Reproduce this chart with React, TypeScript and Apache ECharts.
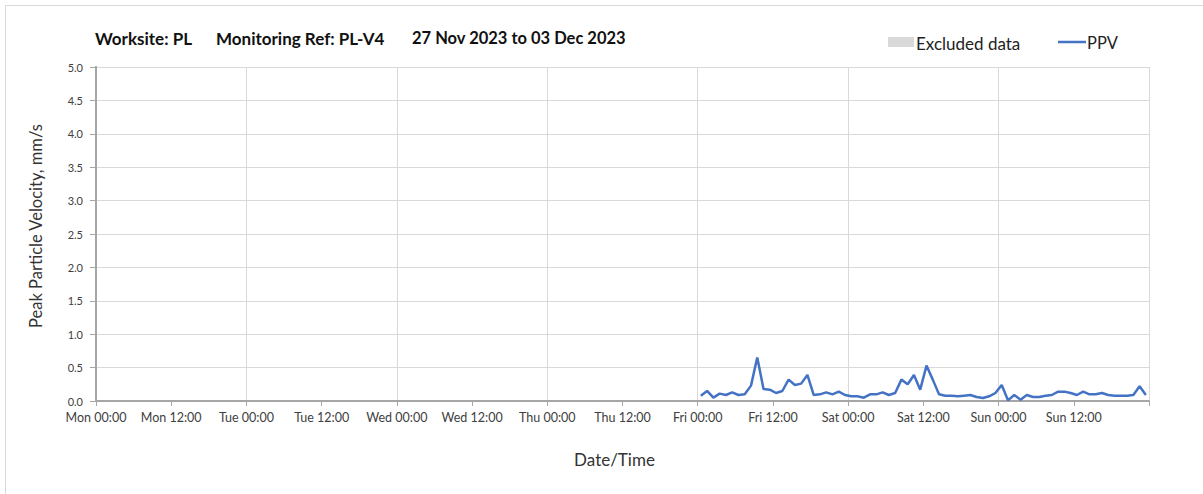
import React, { useEffect, useRef } from "react";
import * as echarts from "echarts";

const xTickLabels = [
  "Mon 00:00", "Mon 12:00", "Tue 00:00", "Tue 12:00", "Wed 00:00", "Wed 12:00",
  "Thu 00:00", "Thu 12:00", "Fri 00:00", "Fri 12:00", "Sat 00:00", "Sat 12:00",
  "Sun 00:00", "Sun 12:00", "",
];

// PPV readings, hourly, first reading at Fri 00:30 (hours counted from Mon 00:00)
const firstReadingHour = 96.5;
const ppvValues = [
  0.08, 0.15, 0.05, 0.11, 0.09, 0.13, 0.09, 0.10, 0.23, 0.65,
  0.18, 0.17, 0.12, 0.15, 0.32, 0.24, 0.26, 0.39, 0.09, 0.10,
  0.13, 0.10, 0.14, 0.09, 0.07, 0.07, 0.05, 0.10, 0.10, 0.13,
  0.09, 0.12, 0.32, 0.25, 0.39, 0.17, 0.53, 0.32, 0.10, 0.08,
  0.08, 0.07, 0.08, 0.09, 0.06, 0.045, 0.07, 0.12, 0.24, 0.01,
  0.09, 0.02, 0.09, 0.06, 0.06, 0.08, 0.09, 0.14, 0.14, 0.12,
  0.09, 0.14, 0.10, 0.10, 0.12, 0.09, 0.08, 0.08, 0.08, 0.09,
  0.22, 0.09,
];

const titleParts = ["Worksite: PL", "Monitoring Ref: PL-V4", "27 Nov 2023 to 03 Dec 2023"];
const legendNames = ["Excluded data", "PPV"];

const FONT = "Lato, 'Noto Sans', sans-serif";

export default function App() {
  const ref = useRef<HTMLDivElement>(null);
  useEffect(() => {
    if (!ref.current) return;
    const chart = echarts.init(ref.current, null, { renderer: "svg" });
    const seriesData = ppvValues.map((v, i) => [firstReadingHour + i, v]);
    chart.setOption({
      animation: false,
      backgroundColor: "#ffffff",
      textStyle: { fontFamily: FONT },
      grid: { left: 96, right: 54, top: 67, bottom: 93 },
      xAxis: [
        {
          type: "value",
          min: 0,
          max: 168,
          interval: 12,
          name: "Date/Time",
          nameLocation: "middle",
          nameGap: 50,
          nameTextStyle: { fontSize: 17, color: "#333", fontFamily: FONT, padding: [0, 16, 0, 0] },
          axisLine: { show: true, lineStyle: { color: "#a6a6a6", width: 2 } },
          axisTick: { show: true, length: 5, lineStyle: { color: "#a6a6a6" } },
          axisLabel: {
            margin: 10,
            fontSize: 12.5,
            color: "#404040",
            fontFamily: FONT,
            formatter: (v: number) => xTickLabels[Math.round(v / 12)] ?? "",
          },
          splitLine: { show: false },
        },
        {
          type: "value",
          min: 0,
          max: 168,
          interval: 24,
          position: "bottom",
          axisLine: { show: false },
          axisTick: { show: false },
          axisLabel: { show: false },
          splitLine: { show: true, lineStyle: { color: "#d9d9d9", width: 1 } },
        },
      ],
      yAxis: [
        {
          type: "value",
          min: 0,
          max: 5,
          interval: 0.5,
          name: "Peak Particle Velocity, mm/s",
          nameLocation: "middle",
          nameGap: 52,
          nameTextStyle: { fontSize: 16.5, color: "#333", fontFamily: FONT, padding: [0, 0, 0, 16] },
          axisLine: { show: true, lineStyle: { color: "#a6a6a6", width: 2 } },
          axisTick: { show: true, length: 6, lineStyle: { color: "#a6a6a6" } },
          axisLabel: {
            margin: 13,
            fontSize: 11,
            color: "#404040",
            fontFamily: FONT,
            formatter: (v: number) => v.toFixed(1),
          },
          splitLine: { show: true, lineStyle: { color: "#d9d9d9", width: 1 } },
        },
        {
          type: "value",
          min: 0,
          max: 5,
          position: "right",
          axisLine: { show: true, lineStyle: { color: "#a6a6a6", width: 2 } },
          axisTick: { show: false },
          axisLabel: { show: false },
          splitLine: { show: false },
        },
      ],
      series: [
        {
          name: legendNames[1],
          type: "line",
          xAxisIndex: 0,
          yAxisIndex: 0,
          data: seriesData,
          showSymbol: false,
          symbol: "none",
          lineStyle: { color: "#4472c4", width: 2.5 },
          itemStyle: { color: "#4472c4" },
        },
      ],
      graphic: [
        {
          type: "rect",
          shape: { x: 5.5, y: 5.5, width: 1400, height: 700 },
          style: { fill: "none", stroke: "#d9d9d9", lineWidth: 1 },
          silent: true,
        },
        {
          type: "text",
          x: 95,
          y: 38,
          style: { text: titleParts[0], font: `bold 17px ${FONT}`, fill: "#111", textVerticalAlign: "middle" },
        },
        {
          type: "text",
          x: 216,
          y: 38,
          style: { text: titleParts[1], font: `bold 17px ${FONT}`, fill: "#111", textVerticalAlign: "middle" },
        },
        {
          type: "text",
          x: 412,
          y: 38,
          style: { text: titleParts[2], font: `bold 16.5px ${FONT}`, fill: "#111", textVerticalAlign: "middle" },
        },
        {
          type: "rect",
          shape: { x: 888, y: 37, width: 26, height: 10 },
          style: { fill: "#d9d9d9" },
        },
        {
          type: "text",
          x: 916,
          y: 43,
          style: { text: legendNames[0], font: `17px ${FONT}`, fill: "#222", textVerticalAlign: "middle" },
        },
        {
          type: "line",
          shape: { x1: 1058, y1: 42, x2: 1086, y2: 42 },
          style: { stroke: "#4472c4", lineWidth: 2.5 },
        },
        {
          type: "text",
          x: 1087,
          y: 43,
          style: { text: legendNames[1], font: `16.5px ${FONT}`, fill: "#222", textVerticalAlign: "middle" },
        },
      ],
    });
    return () => chart.dispose();
  }, []);
  return (
    <div
      ref={ref}
      style={{ position: "fixed", left: 0, top: 0, width: 1203, height: 494 }}
    />
  );
}
